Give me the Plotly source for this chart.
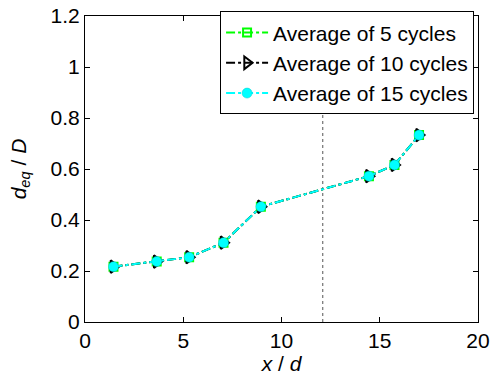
import plotly.graph_objects as go

x_pos = [1.45, 3.65, 5.3, 7.05, 8.95, 14.45, 15.75, 17.0]
avg_5 = [0.217, 0.237, 0.254, 0.311, 0.452, 0.572, 0.616, 0.733]
avg_10 = [0.217, 0.237, 0.254, 0.311, 0.452, 0.572, 0.616, 0.733]
avg_15 = [0.217, 0.237, 0.254, 0.311, 0.452, 0.572, 0.616, 0.733]
ref_x = 12.1
ref_y = [0, 1.2]

font = "Liberation Sans, Arial, sans-serif"

fig = go.Figure()
fig.add_trace(go.Scatter(x=[ref_x, ref_x], y=ref_y, mode="lines",
                         line=dict(color="#555555", width=1, dash="dot"),
                         showlegend=False, hoverinfo="skip"))
fig.add_trace(go.Scatter(x=x_pos, y=avg_5, mode="lines+markers", name="Average of 5 cycles",
                         line=dict(color="#00ff00", width=2, dash="dashdot"),
                         marker=dict(symbol="square-open", size=8, color="#00ff00",
                                     line=dict(width=2, color="#00ff00"))))
fig.add_trace(go.Scatter(x=x_pos, y=avg_10, mode="lines+markers", name="Average of 10 cycles",
                         line=dict(color="black", width=2, dash="dashdot"),
                         marker=dict(symbol="triangle-right-open", size=11, color="black",
                                     line=dict(width=2, color="black"))))
fig.add_trace(go.Scatter(x=x_pos, y=avg_15, mode="lines+markers", name="Average of 15 cycles",
                         line=dict(color="#00ffff", width=2, dash="dashdot"),
                         marker=dict(symbol="circle", size=10, color="#00ffff",
                                     line=dict(width=0.5, color="#00cccc"))))

axis_common = dict(showline=True, linecolor="black", linewidth=1, mirror="ticks",
                   ticks="inside", ticklen=5, tickcolor="black", showgrid=False,
                   zeroline=False, automargin=False,
                   tickfont=dict(family=font, size=21, color="black"))

fig.update_layout(
    width=491, height=376,
    margin=dict(l=85, r=13, t=15, b=54),
    paper_bgcolor="white", plot_bgcolor="white",
    font=dict(family=font, color="black"),
    xaxis=dict(range=[0, 20], tickvals=[0, 5, 10, 15, 20],
               title=dict(text="<i>x</i> / <i>d</i>", font=dict(size=21), standoff=2),
               **axis_common),
    yaxis=dict(range=[0, 1.2], tickvals=[0, 0.2, 0.4, 0.6, 0.8, 1, 1.2],
               ticktext=["0", "0.2", "0.4", "0.6", "0.8", "1", "1.2"],
               title=dict(text="<i>d</i><sub><i>eq</i></sub> / <i>D</i>", font=dict(size=21), standoff=18),
               **axis_common),
    legend=dict(x=0.99, y=1.012, xanchor="right", yanchor="top",
                bgcolor="white", bordercolor="black", borderwidth=1,
                font=dict(family=font, size=21, color="black"),
                tracegroupgap=0, itemwidth=42),
)

fig.write_html("out.html", config={"displayModeBar": False},
               post_script="document.body.style.margin='0px';")
